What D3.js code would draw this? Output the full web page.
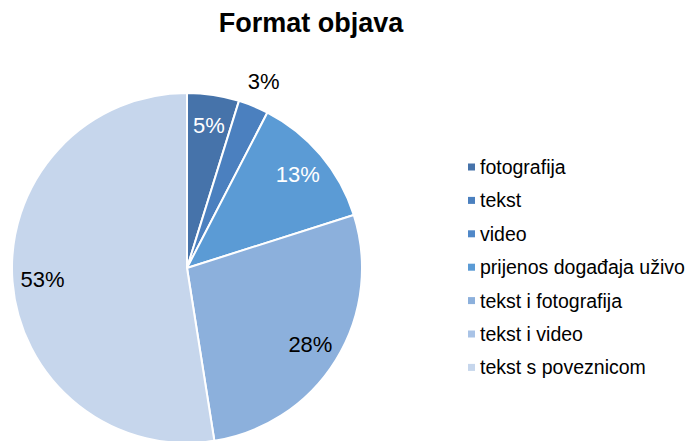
<!DOCTYPE html>
<html>
<head>
<meta charset="utf-8">
<script src="https://cdn.jsdelivr.net/npm/d3@7"></script>
<style>
  html, body { margin: 0; padding: 0; background: #fff; }
  svg { display: block; font-family: "Liberation Sans", Arial, sans-serif; }
</style>
</head>
<body>
<svg id="chart" width="688" height="441"></svg>
<script>
const title = "Format objava";
const categories = ["fotografija", "tekst", "video", "prijenos događaja uživo",
                    "tekst i fotografija", "tekst i video", "tekst s poveznicom"];
const values = [4.8, 2.8, 0, 12.5, 27.4, 0, 52.5];
const labels = ["5%", "3%", "", "13%", "28%", "", "53%"];
const colors = ["#4673aa", "#4b80bf", "#5088c8", "#5b9bd5", "#8cb0dc", "#a9c3e6", "#c6d6ec"];

const svg = d3.select("#chart");
const cx = 187, cy = 268, R = 175;

svg.append("text")
  .attr("x", 311).attr("y", 32)
  .attr("text-anchor", "middle")
  .attr("font-size", 27).attr("font-weight", "bold")
  .attr("fill", "#000")
  .text(title);

const data = categories.map((c, i) => ({ cat: c, value: values[i], label: labels[i], color: colors[i], i }));

const pie = d3.pie().sort(null).value(d => d.value);
const arcs = pie(data);
const arc = d3.arc().innerRadius(0).outerRadius(R);

const g = svg.append("g").attr("transform", `translate(${cx},${cy})`);
g.selectAll("path")
  .data(arcs.filter(a => a.data.value > 0))
  .join("path")
  .attr("d", arc)
  .attr("fill", d => d.data.color)
  .attr("stroke", "#fff")
  .attr("stroke-width", 2)
  .attr("stroke-linejoin", "round");

const inside = d3.arc().innerRadius(145).outerRadius(145);
const outside = d3.arc().innerRadius(202).outerRadius(202);
g.selectAll("text.lbl")
  .data(arcs.filter(a => a.data.label))
  .join("text")
  .attr("class", "lbl")
  .attr("transform", d => {
    const small = (d.endAngle - d.startAngle) < 0.25;
    const p = (small ? outside : inside).centroid(d);
    return `translate(${p[0]},${p[1]})`;
  })
  .attr("text-anchor", "middle")
  .attr("dy", "0.36em")
  .attr("font-size", 22)
  .attr("fill", d => {
    const small = (d.endAngle - d.startAngle) < 0.25;
    if (small) return "#000";
    return d3.hsl(d.data.color).l < 0.6 ? "#fff" : "#000";
  })
  .text(d => d.data.label);

const legend = svg.append("g").attr("transform", "translate(468,167)");
const rows = legend.selectAll("g").data(data).join("g")
  .attr("transform", (d, i) => `translate(0,${i * 33.4})`);
rows.append("rect")
  .attr("x", 0).attr("y", -3.5).attr("width", 7).attr("height", 7)
  .attr("fill", d => d.color);
rows.append("text")
  .attr("x", 12).attr("y", 0).attr("dy", "0.36em")
  .attr("font-size", 19.5)
  .attr("fill", "#000")
  .text(d => d.cat);
</script>
</body>
</html>
